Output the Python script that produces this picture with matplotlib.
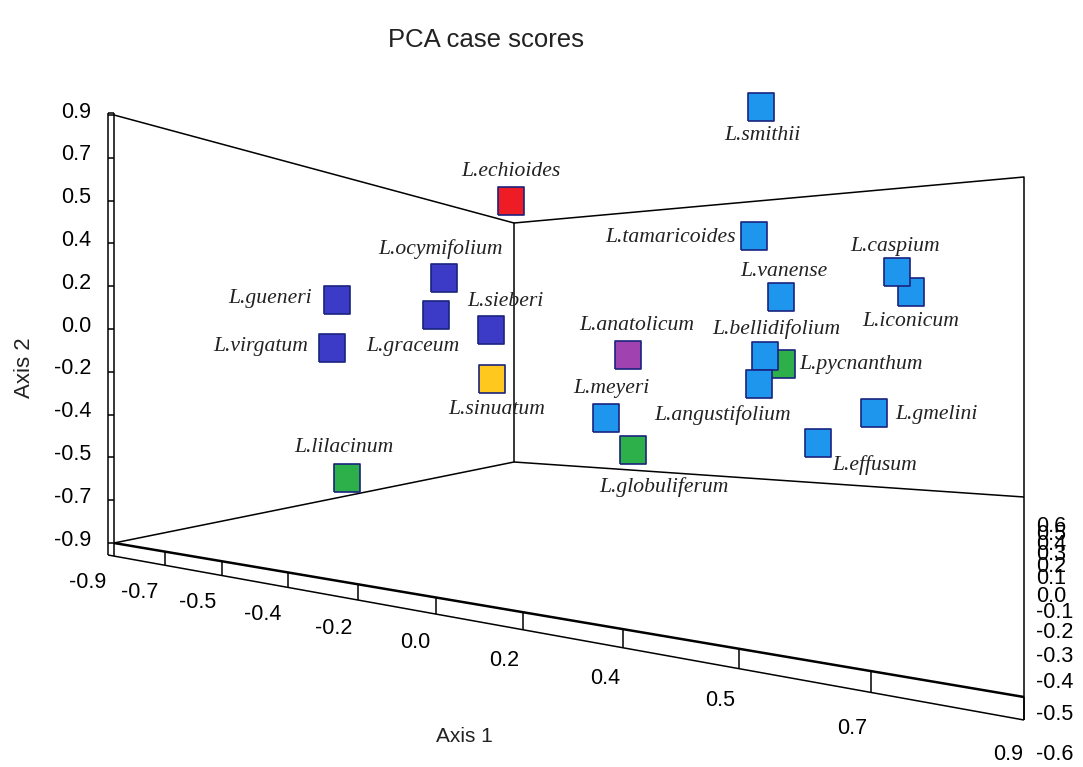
import numpy as np
import matplotlib
matplotlib.use("Agg")
import matplotlib.pyplot as plt

# species scores, already projected onto the drawing plane (pixels of the 3D view)
species = ["L.echioides", "L.ocymifolium", "L.gueneri", "L.graceum", "L.sieberi",
           "L.virgatum", "L.sinuatum", "L.lilacinum", "L.smithii", "L.tamaricoides",
           "L.iconicum", "L.caspium", "L.vanense", "L.anatolicum", "L.pycnanthum",
           "L.bellidifolium", "L.angustifolium", "L.meyeri", "L.globuliferum",
           "L.gmelini", "L.effusum"]
proj_x = [511, 444, 337, 436, 491, 332, 492, 347, 761, 754,
          911, 897, 781, 628, 782, 765, 759, 606, 633, 874, 818]
proj_y = [201, 278, 300, 315, 330, 348, 379, 478, 107, 236,
          292, 272, 297, 355, 364, 356, 384, 418, 450, 413, 443]
group = ["red", "dblue", "dblue", "dblue", "dblue", "dblue", "yellow", "green",
         "lblue", "lblue", "lblue", "lblue", "lblue", "purple", "green",
         "lblue", "lblue", "lblue", "green", "lblue", "lblue"]

axis1_ticks = np.linspace(-0.9, 0.9, 11)
axis2_ticks = np.linspace(0.9, -0.9, 11)
axis3_ticks = np.linspace(0.6, -0.6, 13)

colors = {"red": "#ee1c24", "dblue": "#3b3bc8", "lblue": "#1e96ee",
          "green": "#2db04a", "yellow": "#ffc81e", "purple": "#a043b0"}

# label placement: (x, y, ha)
label_pos = {
    "L.echioides": (511, 171, "center"), "L.ocymifolium": (441, 249, "center"),
    "L.gueneri": (312, 298, "right"), "L.graceum": (413, 346, "center"),
    "L.sieberi": (505, 301, "center"), "L.virgatum": (308, 347, "right"),
    "L.sinuatum": (497, 409, "center"), "L.lilacinum": (344, 448, "center"),
    "L.smithii": (762, 136, "center"), "L.tamaricoides": (736, 238, "right"),
    "L.caspium": (895, 246, "center"), "L.iconicum": (911, 322, "center"),
    "L.vanense": (784, 272, "center"), "L.anatolicum": (637, 326, "center"),
    "L.bellidifolium": (776, 329, "center"), "L.pycnanthum": (799, 364, "left"),
    "L.angustifolium": (723, 415, "center"), "L.meyeri": (611, 388, "center"),
    "L.globuliferum": (664, 487, "center"), "L.gmelini": (895, 415, "left"),
    "L.effusum": (875, 465, "center"),
}

sans = ["Liberation Sans", "DejaVu Sans"]
serif = ["Liberation Serif", "DejaVu Serif"]

fig = plt.figure(figsize=(10.83, 7.67), dpi=100)
ax = fig.add_axes([0, 0, 1, 1])
ax.set_xlim(0, 1083)
ax.set_ylim(767, 0)
ax.axis("off")

k = dict(color="black", lw=1.1, solid_capstyle="butt")
# left wall and right wall of the box
ax.plot([114, 514, 514, 114], [115, 223, 462, 543], **k)
ax.plot([514, 1024, 1024], [223, 177, 720], **k)
ax.plot([514, 1024], [462, 497], **k)
# left (axis 2) double line
ax.plot([108, 108], [113, 555], **k)
ax.plot([114, 114], [113, 543], **k)
ax.plot([108, 114], [113, 113], **k)
y_tick_pos = np.linspace(115, 543, 11)
for yy in y_tick_pos:
    ax.plot([108, 114], [yy, yy], **k)
for yy, v in zip(y_tick_pos, axis2_ticks):
    ax.text(91, yy - 3, "%.1f" % (round(v, 2) + 0.0), ha="right", va="center",
            fontsize=15.5, family=sans)

# bottom (axis 1) double line
ax.plot([114, 1024], [543, 697], color="black", lw=1.8, solid_capstyle="butt")
ax.plot([108, 1024], [555, 720], **k)
x_tick_pos = [114, 165, 222, 288, 358, 436, 523, 623, 739, 871, 1024]
for xx in x_tick_pos:
    y_up = 543 + (xx - 114) * (697 - 543) / (1024 - 114)
    y_lo = 555 + (xx - 108) * (720 - 555) / (1024 - 108)
    ax.plot([xx, xx], [y_up, y_lo], **k)
x_lab_x = [88, 140, 198, 263, 334, 415, 504, 605, 720, 852, 1008]
x_lab_y = [582, 592, 602, 615, 628, 643, 660, 679, 701, 728, 754]
for xx, yy, v in zip(x_lab_x, x_lab_y, axis1_ticks):
    ax.text(xx, yy, "%.1f" % (round(v, 2) + 0.0), ha="center", va="center",
            fontsize=15.5, family=sans)

# axis 3 labels, squeezed by perspective
z_lab_y = [527, 535, 545, 555, 567, 578, 597, 612, 632, 657, 683, 715, 754]
for yy, v in zip(z_lab_y, axis3_ticks):
    ax.text(1036, yy, "%.1f" % (round(v, 2) + 0.0), ha="left", va="center",
            fontsize=15.5, family=sans)

# points
sq = [(-0.46, -0.5), (0.46, -0.5), (0.46, 0.5), (-0.46, 0.5), (-0.46, -0.5)]
for i, name in enumerate(species):
    ax.plot(proj_x[i], proj_y[i], marker=sq, ms=20, color=colors[group[i]],
            mec="#1a237e", mew=1.2, zorder=3 + i * 0.01)
    lx, ly, ha = label_pos[name]
    ax.text(lx, ly, name, ha=ha, va="center", fontsize=15.6, style="italic",
            family=serif, color="#222222", zorder=4)

ax.text(486, 40, "PCA case scores", ha="center", va="center", fontsize=18.5,
        family=sans, color="#222222")
ax.text(24, 368, "Axis 2", ha="center", va="center", rotation=90, fontsize=16,
        family=sans, color="#222222")
ax.text(464, 737, "Axis 1", ha="center", va="center", fontsize=15,
        family=sans, color="#222222")

fig.savefig("out.png", dpi=100)
